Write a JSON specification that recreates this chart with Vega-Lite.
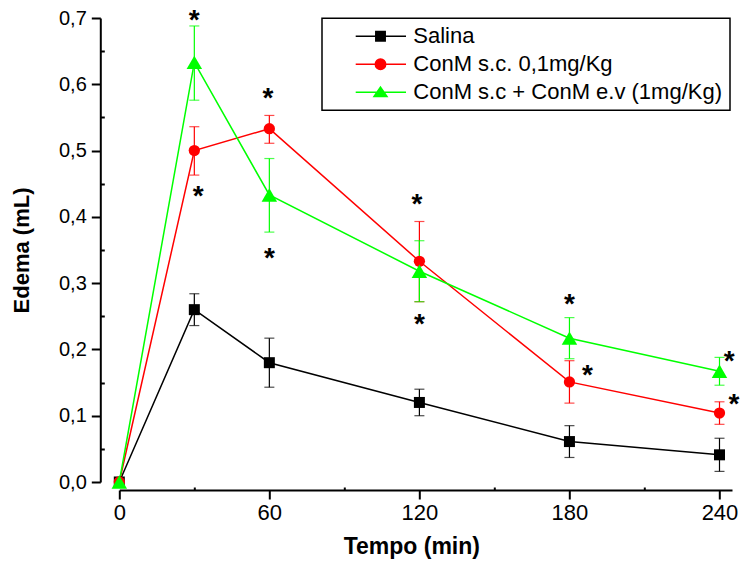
{
  "$schema": "https://vega.github.io/schema/vega-lite/v6.json",
  "width": 612.7,
  "height": 464,
  "autosize": "none",
  "padding": {"left": 119.3, "top": 18, "right": 8, "bottom": 83},
  "background": "white",
  "config": {"view": {"stroke": null}, "font": "Liberation Sans"},
  "datasets": {
    "main": [
      {"t": 0, "series": "Salina", "v": 0.0, "lo": 0.0, "hi": 0.0},
      {"t": 30, "series": "Salina", "v": 0.26, "lo": 0.236, "hi": 0.284},
      {"t": 60, "series": "Salina", "v": 0.18, "lo": 0.143, "hi": 0.217},
      {"t": 120, "series": "Salina", "v": 0.12, "lo": 0.1, "hi": 0.14},
      {"t": 180, "series": "Salina", "v": 0.061, "lo": 0.037, "hi": 0.085},
      {"t": 240, "series": "Salina", "v": 0.041, "lo": 0.016, "hi": 0.066},
      {"t": 0, "series": "ConM s.c. 0,1mg/Kg", "v": 0.0, "lo": 0.0, "hi": 0.0},
      {"t": 30, "series": "ConM s.c. 0,1mg/Kg", "v": 0.5, "lo": 0.463, "hi": 0.536},
      {"t": 60, "series": "ConM s.c. 0,1mg/Kg", "v": 0.533, "lo": 0.511, "hi": 0.553},
      {"t": 120, "series": "ConM s.c. 0,1mg/Kg", "v": 0.333, "lo": 0.272, "hi": 0.393},
      {"t": 180, "series": "ConM s.c. 0,1mg/Kg", "v": 0.151, "lo": 0.119, "hi": 0.183},
      {"t": 240, "series": "ConM s.c. 0,1mg/Kg", "v": 0.104, "lo": 0.087, "hi": 0.121},
      {"t": 0, "series": "ConM s.c + ConM e.v (1mg/Kg)", "v": 0.0, "lo": 0.0, "hi": 0.0},
      {"t": 30, "series": "ConM s.c + ConM e.v (1mg/Kg)", "v": 0.633, "lo": 0.576, "hi": 0.688},
      {"t": 60, "series": "ConM s.c + ConM e.v (1mg/Kg)", "v": 0.433, "lo": 0.377, "hi": 0.488},
      {"t": 120, "series": "ConM s.c + ConM e.v (1mg/Kg)", "v": 0.318, "lo": 0.272, "hi": 0.364},
      {"t": 180, "series": "ConM s.c + ConM e.v (1mg/Kg)", "v": 0.217, "lo": 0.186, "hi": 0.248},
      {"t": 240, "series": "ConM s.c + ConM e.v (1mg/Kg)", "v": 0.167, "lo": 0.146, "hi": 0.188}
    ],
    "stars": [
      {"t": 30, "v": 0.703},
      {"t": 31.6, "v": 0.437},
      {"t": 59.4, "v": 0.586},
      {"t": 60, "v": 0.344},
      {"t": 119, "v": 0.425},
      {"t": 120, "v": 0.244},
      {"t": 180, "v": 0.2745},
      {"t": 187.2, "v": 0.168},
      {"t": 243.9, "v": 0.189},
      {"t": 245.8, "v": 0.124}
    ]
  },
  "encoding": {
    "x": {
      "field": "t",
      "type": "quantitative",
      "scale": {"domain": [0, 245], "nice": false, "zero": false},
      "axis": {
        "title": "Tempo (min)",
        "values": [0, 30, 60, 90, 120, 150, 180, 210, 240],
        "offset": 8,
        "grid": false,
        "domainWidth": 2,
        "domainColor": "black",
        "tickColor": "black",
        "tickWidth": 2,
        "tickSize": {"condition": {"test": "datum.value % 60 === 0", "value": 9}, "value": -3},
        "labelExpr": "datum.value % 60 === 0 ? datum.label : ''",
        "labelFontSize": 22,
        "labelColor": "black",
        "labelPadding": 3,
        "labelFlush": false,
        "labelOverlap": false,
        "titleFontSize": 23,
        "titleFontWeight": "bold",
        "titleColor": "black",
        "titleX": 292,
        "titlePadding": 12
      }
    },
    "y": {
      "field": "v",
      "type": "quantitative",
      "scale": {"domain": [0, 0.7], "nice": false},
      "axis": {
        "title": "Edema (mL)",
        "values": [0, 0.05, 0.1, 0.15, 0.2, 0.25, 0.3, 0.35, 0.4, 0.45, 0.5, 0.55, 0.6, 0.65, 0.7],
        "offset": 19,
        "grid": false,
        "domainWidth": 2,
        "domainColor": "black",
        "tickColor": "black",
        "tickWidth": 2,
        "tickSize": {"condition": {"test": "round(datum.value * 100) % 10 === 0", "value": 9}, "value": -4},
        "labelExpr": "round(datum.value * 100) % 10 === 0 ? replace(format(datum.value, '.1f'), '.', ',') : ''",
        "labelFontSize": 20,
        "labelColor": "black",
        "labelPadding": 5,
        "labelFlush": false,
        "labelOverlap": false,
        "titleFontSize": 22,
        "titleFontWeight": "bold",
        "titleColor": "black",
        "titlePadding": 25
      }
    }
  },
  "layer": [
    {
      "data": {"name": "main"},
      "transform": [{"filter": "datum.t > 0"}],
      "mark": {"type": "rule", "strokeWidth": 1.2},
      "encoding": {
        "y": {"field": "lo", "type": "quantitative"},
        "y2": {"field": "hi"},
        "color": {"field": "series", "type": "nominal"}
      }
    },
    {
      "data": {"name": "main"},
      "transform": [{"filter": "datum.t > 0"}],
      "mark": {"type": "tick", "orient": "horizontal", "size": 10, "thickness": 1.2},
      "encoding": {
        "y": {"field": "lo", "type": "quantitative"},
        "color": {"field": "series", "type": "nominal"}
      }
    },
    {
      "data": {"name": "main"},
      "transform": [{"filter": "datum.t > 0"}],
      "mark": {"type": "tick", "orient": "horizontal", "size": 10, "thickness": 1.2},
      "encoding": {
        "y": {"field": "hi", "type": "quantitative"},
        "color": {"field": "series", "type": "nominal"}
      }
    },
    {
      "data": {"name": "main"},
      "mark": {"type": "line", "strokeWidth": 1.5},
      "encoding": {
        "order": {"field": "t", "type": "quantitative"},
        "color": {
          "field": "series",
          "type": "nominal",
          "scale": {
            "domain": ["Salina", "ConM s.c. 0,1mg/Kg", "ConM s.c + ConM e.v (1mg/Kg)"],
            "range": ["#000000", "#FF0000", "#00FF00"]
          },
          "legend": {
            "title": null,
            "orient": "none",
            "legendX": 202.7,
            "legendY": 0.3,
            "strokeColor": "black",
            "padding": 7,
            "labelFontSize": 22,
            "labelLimit": 600,
            "labelColor": "black",
            "symbolSize": 400,
            "symbolStrokeWidth": 1.5,
            "rowPadding": 6,
            "labelOffset": 62.3,
            "encode": {
              "symbols": {
                "update": {
                  "shape": {"signal": "datum.value === 'Salina' ? 'M1.57,0H6.6M3.58,-0.47H4.52V0.47H3.58Z' : datum.value === 'ConM s.c. 0,1mg/Kg' ? 'M1.57,0H6.6M3.53,0A0.52,0.52 0 1,0 4.57,0A0.52,0.52 0 1,0 3.53,0Z' : 'M1.57,0H6.6M4.05,-0.52L4.7,0.43H3.4Z'"},
                  "fill": {"scale": "color", "field": "value"},
                  "stroke": {"scale": "color", "field": "value"},
                  "strokeWidth": {"value": 1.5},
                  "opacity": {"value": 1}
                }
              },
              "legend": {"update": {"strokeWidth": {"value": 1.5}}}
            }
          }
        }
      }
    },
    {
      "data": {"name": "main"},
      "transform": [{"filter": "datum.series === 'Salina'"}],
      "mark": {"type": "point", "shape": "square", "filled": true, "size": 121, "color": "#000000", "opacity": 1}
    },
    {
      "data": {"name": "main"},
      "transform": [{"filter": "datum.series === 'ConM s.c. 0,1mg/Kg'"}],
      "mark": {"type": "point", "shape": "circle", "filled": true, "size": 127, "color": "#FF0000", "opacity": 1}
    },
    {
      "data": {"name": "main"},
      "transform": [{"filter": "datum.series === 'ConM s.c + ConM e.v (1mg/Kg)'"}],
      "mark": {"type": "point", "shape": "triangle-up", "filled": true, "size": 240, "color": "#00FF00", "opacity": 1}
    },
    {
      "data": {"name": "stars"},
      "mark": {"type": "text", "text": "*", "fontSize": 28, "fontWeight": "bold", "baseline": "alphabetic", "align": "center", "dy": 13, "color": "black"}
    }
  ]
}
